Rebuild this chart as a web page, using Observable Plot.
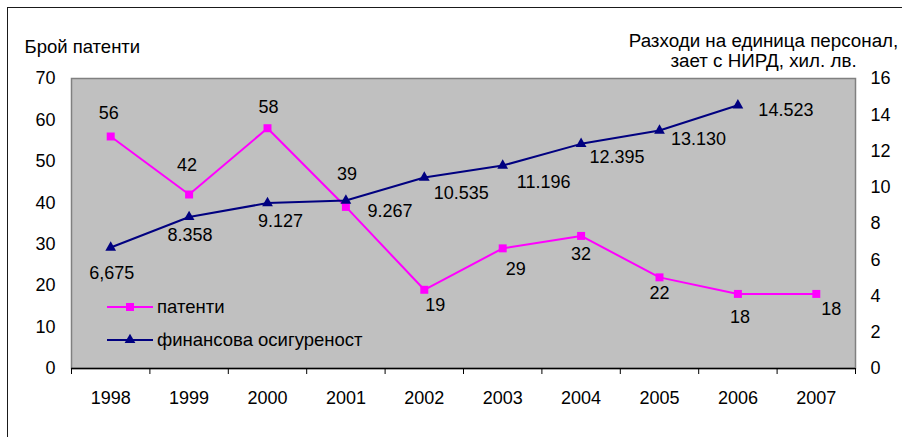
<!DOCTYPE html>
<html>
<head>
<meta charset="utf-8">
<script src="https://cdn.jsdelivr.net/npm/d3@7"></script>
<script src="https://cdn.jsdelivr.net/npm/@observablehq/plot@0.6"></script>
<style>
  body { margin: 0; background: #fff; }
  #chart { position: relative; width: 902px; height: 437px; overflow: hidden;
           font-family: "Liberation Sans", Arial, sans-serif; }
  #border { position: absolute; left: 7px; top: 7px; width: 1200px; height: 1200px;
            border: 1px solid #1a1a1a; }
  #chart svg { position: absolute; left: 0; top: 0; }
</style>
</head>
<body>
<div id="chart"><div id="border"></div></div>
<script>
// Patents granted per year and R&D spending per researcher (thousand BGN)
const years = [1998, 1999, 2000, 2001, 2002, 2003, 2004, 2005, 2006, 2007];
const patents = [56, 42, 58, 39, 19, 29, 32, 22, 18, 18];
const financeYears = [1998, 1999, 2000, 2001, 2002, 2003, 2004, 2005, 2006];
const financeLabels = ["6,675", "8.358", "9.127", "9.267", "10.535", "11.196", "12.395", "13.130", "14.523"];
const financeValues = financeLabels.map(s => +s.replace(",", "."));
const leftTicks = [0, 10, 20, 30, 40, 50, 60, 70];
const rightTicks = [0, 2, 4, 6, 8, 10, 12, 14, 16];
const seriesNames = ["патенти", "финансова осигуреност"];
const leftTitle = "Брой патенти";
const rightTitle = "Разходи на единица персонал,\nзает с НИРД, хил. лв.";

// Layout
const LEFT_MAX = 70, RIGHT_MAX = 16;
const k = LEFT_MAX / RIGHT_MAX; // right-axis units -> left-axis units
const PINK = "#ff00ff", NAVY = "#000080";
const FONT = '"Liberation Sans", Arial, sans-serif';

const patentRows = years.map((year, i) => ({year, value: patents[i], label: String(patents[i])}));
const financeRows = financeYears.map((year, i) => ({year, value: financeValues[i] * k, label: financeLabels[i]}));
const boundaries = [...years.map(y => y - 0.5), years[years.length - 1] + 0.5];

// per-label nudges [dx, dy] in pixels
const patentNudge = [[-2, -23], [-2, -29], [1, -21], [1, -33], [11, 15], [13, 21], [0, 18], [0, 16], [2, 23], [15, 15]];
const financeNudge = [[1, 26], [1, 18], [13, 18], [44, 11], [37, 16], [41, 17], [36, 13], [39, 9], [48, 5]];

const labelMarks = [
  ...patentRows.map((d, i) => Plot.text([d], {
    x: "year", y: "value", text: "label", fill: "#000",
    dx: patentNudge[i][0], dy: patentNudge[i][1]
  })),
  ...financeRows.map((d, i) => Plot.text([d], {
    x: "year", y: "value", text: "label", fill: "#000",
    dx: financeNudge[i][0], dy: financeNudge[i][1]
  }))
];

const svg = Plot.plot({
  width: 902,
  height: 437,
  marginLeft: 71,
  marginRight: 47,
  marginTop: 78,
  marginBottom: 69,
  style: {fontFamily: FONT, fontSize: "18px", background: "transparent", color: "#000", overflow: "visible"},
  x: {type: "linear", domain: [boundaries[0], boundaries[boundaries.length - 1]]},
  y: {domain: [0, LEFT_MAX]},
  marks: [
    Plot.frame({fill: "#c0c0c0", stroke: "#808080", strokeWidth: 1.5}),
    Plot.axisY(leftTicks, {anchor: "left", tickSize: 0, tickPadding: 16, label: null}),
    Plot.axisY(rightTicks.map(t => t * k), {
      anchor: "right", tickSize: 0, tickPadding: 15, label: null,
      tickFormat: d => String(Math.round(d / k))
    }),
    Plot.axisX(years, {anchor: "bottom", tickSize: 0, tickPadding: 23, label: null, tickFormat: d => String(d)}),
    Plot.axisX(boundaries, {anchor: "bottom", tickSize: 6, label: null, tickFormat: () => "", stroke: "#000"}),
    Plot.ruleY([0], {stroke: "#000", strokeWidth: 1.5}),
    Plot.line(patentRows, {x: "year", y: "value", stroke: PINK, strokeWidth: 2}),
    Plot.dot(patentRows, {x: "year", y: "value", symbol: "square", r: 4.5, fill: PINK, stroke: null}),
    Plot.line(financeRows, {x: "year", y: "value", stroke: NAVY, strokeWidth: 2}),
    Plot.dot(financeRows, {x: "year", y: "value", symbol: "triangle", r: 4, fill: NAVY, stroke: null}),
    ...labelMarks,
    Plot.text([leftTitle], {
      text: d => d, frameAnchor: "top-left", textAnchor: "start", lineAnchor: "middle",
      fontSize: 18.5, dx: -47, dy: -31, fill: "#000"
    }),
    Plot.text([rightTitle], {
      text: d => d, frameAnchor: "top-right", textAnchor: "middle", lineAnchor: "middle",
      fontSize: 18.8, lineHeight: 1.07, dx: -92, dy: -28, fill: "#000"
    })
  ]
});

// Legend inside the plot area
const legendItems = [
  {name: seriesNames[0], color: PINK, symbol: d3.symbolSquare, size: 4.5 * 4.5 * Math.PI},
  {name: seriesNames[1], color: NAVY, symbol: d3.symbolTriangle, size: 4 * 4 * Math.PI}
];
const legend = d3.select(svg).append("g")
  .attr("font-family", FONT).attr("font-size", 18.5).attr("text-anchor", "start");
const item = legend.selectAll("g").data(legendItems).join("g")
  .attr("transform", (d, i) => `translate(107,${307 + i * 33})`);
item.append("line").attr("x1", 0).attr("x2", 46).attr("y1", 0).attr("y2", 0)
  .attr("stroke", d => d.color).attr("stroke-width", 2);
item.append("path").attr("transform", "translate(23,0)")
  .attr("d", d => d3.symbol(d.symbol, d.size)()).attr("fill", d => d.color);
item.append("text").attr("x", 50).attr("dy", "0.35em").attr("fill", "#000").text(d => d.name);

document.getElementById("chart").appendChild(svg);
</script>
</body>
</html>
